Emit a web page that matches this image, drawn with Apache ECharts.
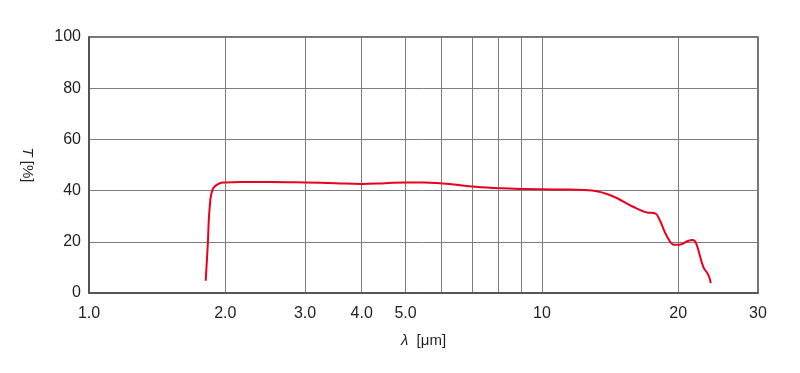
<!DOCTYPE html>
<html>
<head>
<meta charset="utf-8">
<script src="https://cdn.jsdelivr.net/npm/echarts@6/dist/echarts.min.js"></script>
<style>
html,body{margin:0;padding:0;background:#fff;}
#chart{width:800px;height:373px;}
</style>
</head>
<body>
<div id="chart"></div>
<script>
// Wavelength [µm] and transmittance [%]
var wavelength = [1.81, 1.83, 1.845, 1.875, 1.94, 2.0, 2.16, 2.5, 3.0, 3.5, 4.0, 4.5, 5.0, 5.5, 6.03, 6.24, 7.14, 8.1, 9.17, 10.0, 11.5, 12.9, 14.3, 15.9, 17.0, 17.8, 18.2, 18.9, 19.6, 20.1, 21.0, 21.5, 21.9, 22.7, 23.3, 23.6];
var transmittance = [4.8, 19.6, 32.4, 40.5, 42.8, 43.2, 43.4, 43.4, 43.2, 42.9, 42.6, 42.9, 43.2, 43.2, 42.8, 42.6, 41.5, 40.9, 40.6, 40.5, 40.4, 40.0, 37.9, 33.7, 31.5, 31.1, 28.5, 22.0, 18.8, 18.8, 20.3, 20.7, 19.5, 10.3, 7.1, 3.9];

var xLabelValues = [1, 2, 3, 4, 5, 10, 20, 30];
var xLabelTexts = ['1.0', '2.0', '3.0', '4.0', '5.0', '10', '20', '30'];
var xGridValues = [2, 3, 4, 5, 6, 7, 8, 9, 10, 20];

var points = wavelength.map(function (w, i) { return [w, transmittance[i]]; });

var textColor = '#231f20';
var font = '"Liberation Sans", Arial, Helvetica, sans-serif';

var chart = echarts.init(document.getElementById('chart'), null, {renderer: 'canvas'});
chart.setOption({
  animation: false,
  backgroundColor: '#fff',
  grid: {
    left: 89, right: 42, top: 37, bottom: 80,
    show: true, borderColor: '#4a4a4a', borderWidth: 1.5, backgroundColor: 'transparent'
  },
  xAxis: {
    type: 'log',
    logBase: 10,
    min: 1,
    max: 30,
    name: '{i|λ}  [μm]',
    nameLocation: 'middle',
    nameGap: 40,
    nameTextStyle: {color: textColor, fontSize: 15, fontFamily: font,
      rich: {i: {fontStyle: 'italic', fontSize: 15, fontFamily: font, color: textColor}}},
    axisLine: {show: true, lineStyle: {color: '#4a4a4a', width: 1.5}},
    axisTick: {show: false, customValues: xGridValues},
    axisLabel: {
      customValues: xLabelValues,
      color: textColor, fontSize: 16, fontFamily: font, margin: 13,
      formatter: function (v) {
        for (var i = 0; i < xLabelValues.length; i++) {
          if (Math.abs(xLabelValues[i] - v) < 1e-6) return xLabelTexts[i];
        }
        return '';
      }
    },
    splitLine: {show: true, lineStyle: {color: '#7d7d7d', width: 1}}
  },
  yAxis: {
    type: 'value',
    min: 0,
    max: 100,
    interval: 20,
    name: '{i|T} [%]',
    nameLocation: 'middle',
    nameRotate: -90,
    nameGap: 54,
    nameTextStyle: {color: textColor, fontSize: 15, fontFamily: font,
      rich: {i: {fontStyle: 'italic', fontSize: 15, fontFamily: font, color: textColor}}},
    axisLine: {show: true, lineStyle: {color: '#4a4a4a', width: 1.5}},
    axisTick: {show: false},
    axisLabel: {color: textColor, fontSize: 16, fontFamily: font, margin: 8},
    splitLine: {show: true, lineStyle: {color: '#7d7d7d', width: 1}}
  },
  series: [{
    type: 'line',
    data: points,
    smooth: 0.4,
    showSymbol: false,
    symbol: 'none',
    lineStyle: {color: '#e8001c', width: 2}
  }]
});
</script>
</body>
</html>
